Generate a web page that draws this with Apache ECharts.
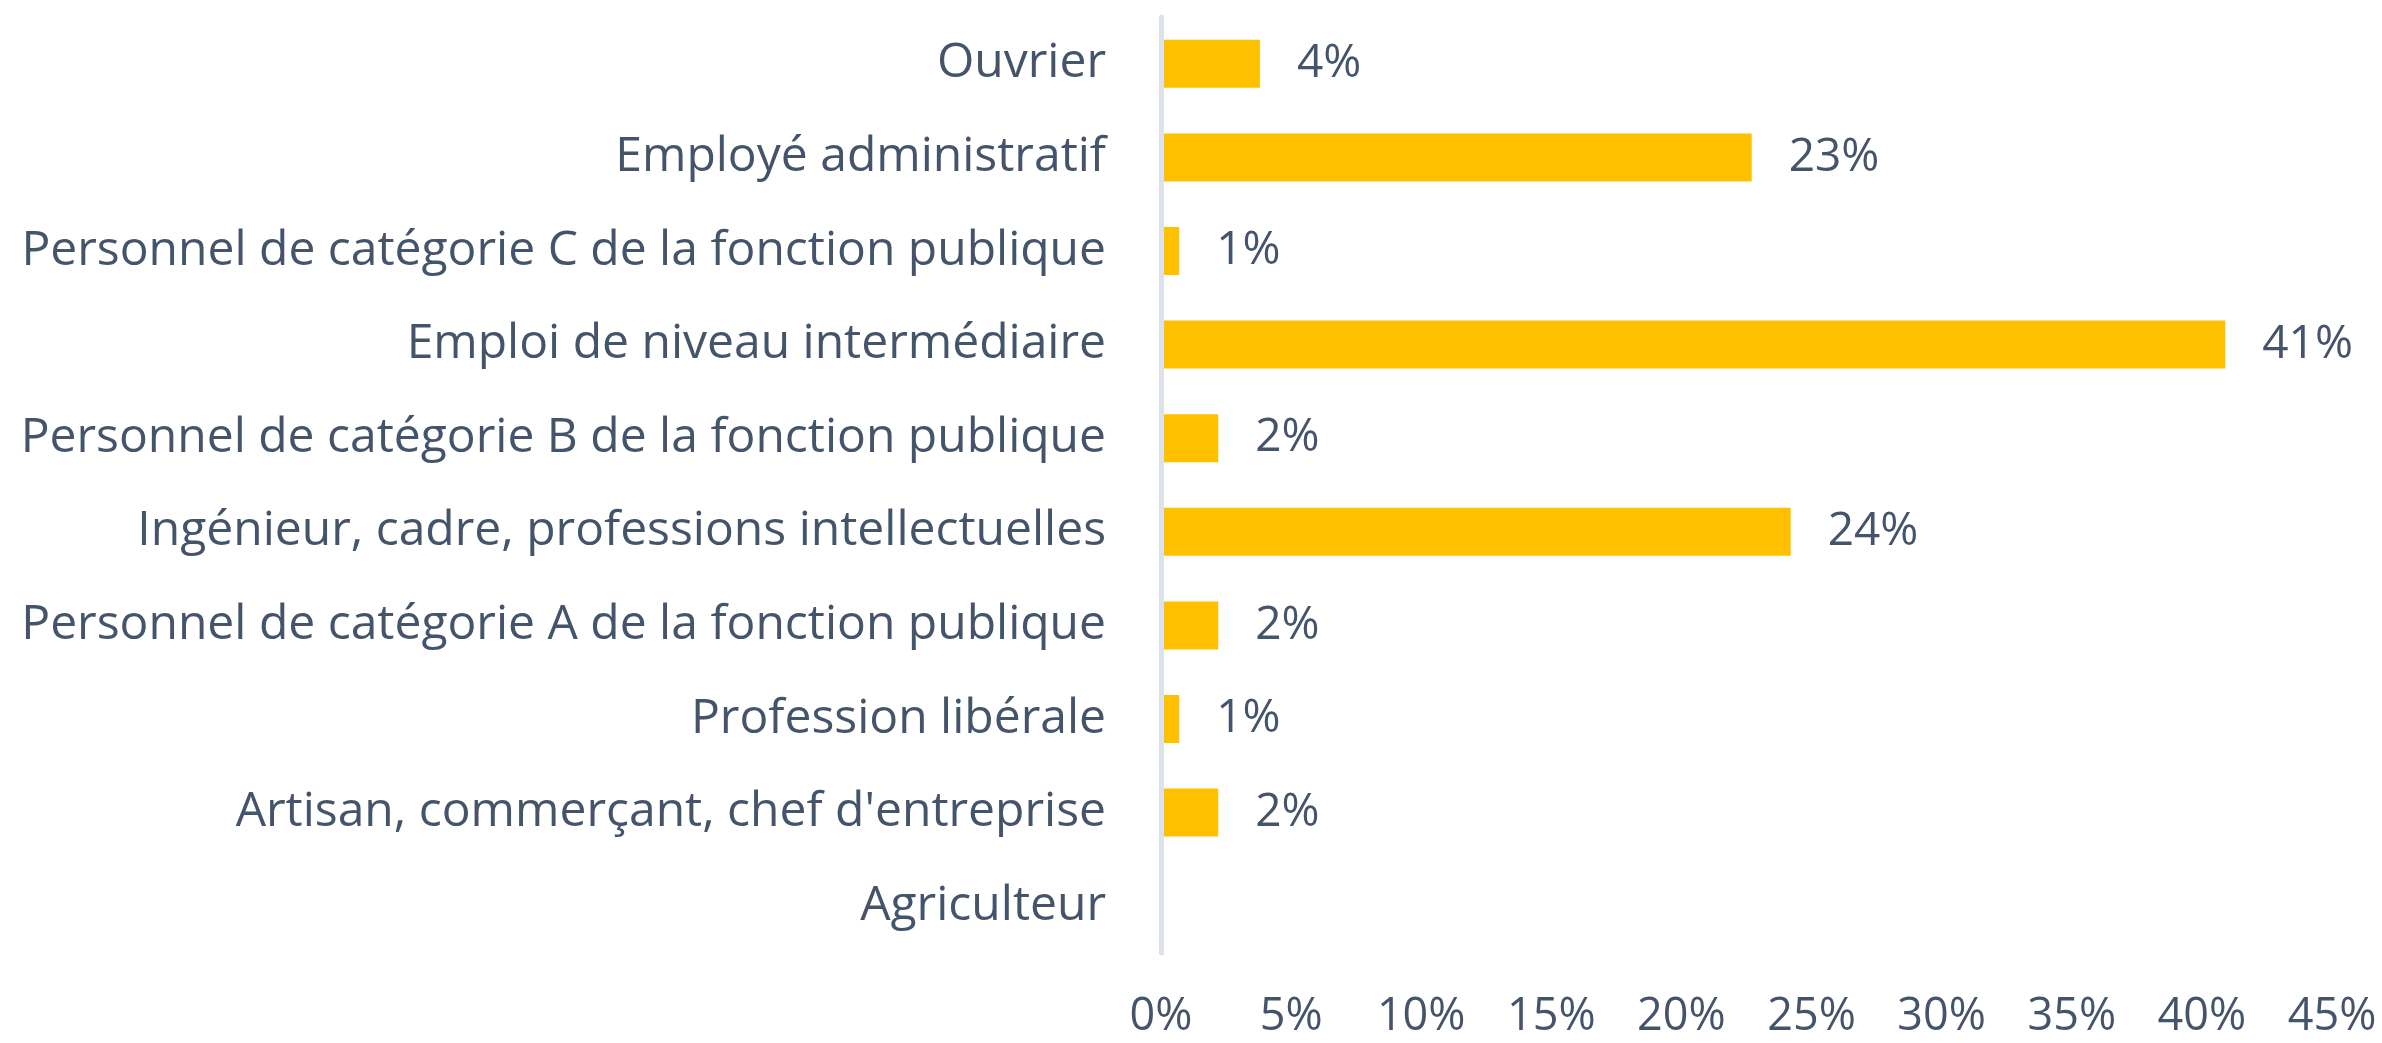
<!DOCTYPE html>
<html>
<head>
<meta charset="utf-8">
<script src="https://cdn.jsdelivr.net/npm/echarts@6/dist/echarts.min.js"></script>
<style>
    html, body { margin: 0; padding: 0; background: #fff; }
    #chart { width: 2382px; height: 1043px; }
</style>
</head>
<body>
<div id="chart"></div>
<script>
    // categories, top to bottom
    var categories = [
        'Ouvrier',
        'Employé administratif',
        'Personnel de catégorie C de la fonction publique',
        'Emploi de niveau intermédiaire',
        'Personnel de catégorie B de la fonction publique',
        'Ingénieur, cadre, professions intellectuelles',
        'Personnel de catégorie A de la fonction publique',
        'Profession libérale',
        'Artisan, commerçant, chef d\'entreprise',
        'Agriculteur'
    ];
    // share in %
    var values = [3.8, 22.7, 0.7, 40.9, 2.2, 24.2, 2.2, 0.7, 2.2, 0];
    // data labels as printed
    var labels = ['4%', '23%', '1%', '41%', '2%', '24%', '2%', '1%', '2%', ''];
    var xTicks = [0, 5, 10, 15, 20, 25, 30, 35, 40, 45];

    var textColor = '#44546a';
    var font = 'Open Sans';

    var chart = echarts.init(document.getElementById('chart'));
    var option = {
        animation: false,
        grid: {
            left: 1161,
            right: 50,
            top: 17,
            bottom: 90
        },
        xAxis: {
            type: 'value',
            min: xTicks[0],
            max: xTicks[xTicks.length - 1],
            interval: 5,
            axisLine: {show: false},
            axisTick: {show: false},
            splitLine: {show: false},
            axisLabel: {
                margin: 42,
                color: textColor,
                fontFamily: font,
                fontSize: 45,
                formatter: '{value}%'
            }
        },
        yAxis: {
            type: 'category',
            inverse: true,
            data: categories,
            z: 5,
            axisTick: {show: false},
            axisLine: {
                show: true,
                lineStyle: {color: '#dde2ea', width: 5}
            },
            axisLabel: {
                margin: 55,
                color: textColor,
                fontFamily: font,
                fontSize: 48,
                padding: [6, 0, 0, 0]
            }
        },
        series: [
            {
                type: 'bar',
                data: values,
                barWidth: 48,
                itemStyle: {color: '#ffc000'},
                label: {
                    show: true,
                    position: 'right',
                    distance: 37,
                    color: textColor,
                    fontFamily: font,
                    fontSize: 46,
                    formatter: function (p) {
                        return labels[p.dataIndex];
                    }
                }
            }
        ]
    };
    chart.setOption(option);
</script>
</body>
</html>
